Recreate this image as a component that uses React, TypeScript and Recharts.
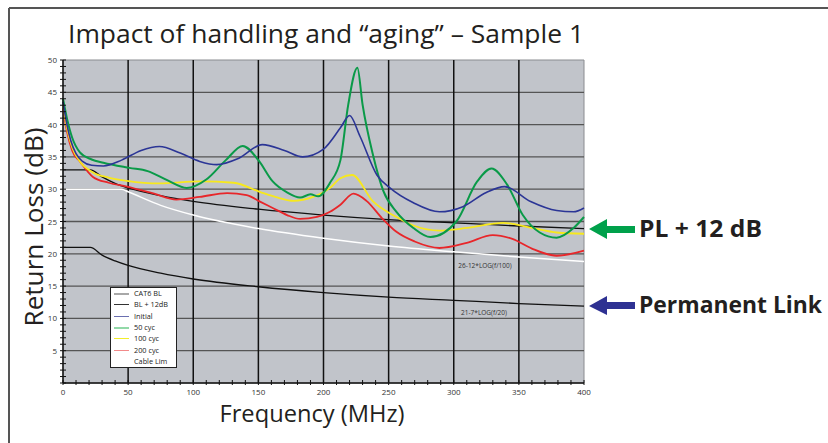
import {
  Line,
  LineChart,
  ReferenceArea,
  ReferenceLine,
  XAxis,
  YAxis,
} from "recharts";

type Pair = [number, number];

// [frequency MHz, return loss dB]
const BL_PLUS_12: Pair[] = [
  [0, 33], [21, 33], [30, 31.9], [40, 30.9], [50, 30.2], [75, 29.0], [100, 28.1],
  [150, 26.9], [200, 26.0], [250, 25.3], [300, 24.8], [350, 24.3], [400, 23.9],
];
const CAT6_BL: Pair[] = [
  [0, 21], [21, 21], [30, 19.8], [40, 18.9], [50, 18.2], [75, 17.0], [100, 16.1],
  [150, 14.9], [200, 14.0], [250, 13.3], [300, 12.8], [350, 12.3], [400, 11.9],
];
const CABLE_LIM: Pair[] = [
  [0, 30], [45, 30], [50, 29.6], [75, 27.5], [100, 26.0], [150, 23.9], [200, 22.4],
  [250, 21.2], [300, 20.3], [350, 19.5], [400, 18.8],
];
const INITIAL: Pair[] = [
  [0, 43.5], [3, 40], [6, 37.5], [10, 35.5], [15, 34.3], [22, 33.7], [31, 33.6],
  [45, 34.5], [60, 36.0], [74, 36.6], [90, 35.6], [105, 34.3], [118, 33.8],
  [135, 34.8], [153, 36.9], [170, 36.0], [184, 35.0], [200, 36.2], [213, 39.5],
  [220, 41.4], [228, 38.2], [241, 32.2], [251, 30.2], [269, 27.9], [289, 26.5],
  [307, 27.3], [325, 29.5], [339, 30.4], [359, 28.1], [379, 26.7], [392, 26.5],
  [400, 27.1],
];
const CYC_50: Pair[] = [
  [0, 44], [3, 41], [7, 38], [13, 35.7], [22, 34.6], [31, 34.1], [51, 33.3],
  [65, 32.8], [80, 31.4], [95, 30.2], [110, 31.5], [125, 34.5], [138, 36.7],
  [150, 34.5], [161, 31.2], [172, 29.5], [182, 28.7], [190, 29.2], [196, 28.9],
  [205, 31.0], [213, 34.5], [219, 43.1], [226, 48.8], [230, 43.1], [238, 35.3],
  [246, 29.7], [256, 26.5], [269, 24.0], [282, 22.6], [302, 25.0], [318, 31.2],
  [329, 33.2], [341, 30.7], [353, 26.0], [366, 23.3], [379, 22.5], [392, 24.0],
  [400, 25.7],
];
const CYC_100: Pair[] = [
  [0, 43], [3, 39.5], [7, 36.5], [13, 34.3], [23, 32.6], [35, 31.8], [49, 31.3],
  [74, 30.9], [105, 31.2], [131, 31.0], [151, 29.6], [165, 28.7], [177, 28.2],
  [192, 28.8], [205, 30.2], [213, 31.7], [222, 32.2], [238, 28.1], [256, 25.7],
  [270, 24.3], [289, 23.6], [310, 24.0], [338, 24.8], [360, 24.0], [379, 23.3],
  [400, 23.1],
];
const CYC_200: Pair[] = [
  [0, 42.5], [3, 39], [7, 36], [13, 34.3], [23, 31.9], [35, 31.0], [49, 30.4],
  [70, 29.3], [87, 28.4], [105, 28.8], [126, 29.4], [141, 29.1], [152, 28.0],
  [161, 27.1], [172, 26.0], [182, 25.4], [195, 25.7], [205, 26.5], [213, 27.6],
  [223, 29.3], [233, 28.2], [245, 25.5], [256, 23.4], [270, 21.9], [289, 20.9],
  [310, 21.7], [330, 22.9], [345, 22.3], [360, 20.8], [379, 19.7], [400, 20.5],
];

const FREQ_LABELS = [0, 50, 100, 150, 200, 250, 300, 350, 400];
const DB_LABELS = [5, 10, 15, 20, 25, 30, 35, 40, 45, 50];
const FREQ_GRID = [50, 100, 150, 200, 250, 300, 350];
const DB_GRID = [5, 10, 15, 20, 25, 30, 35, 40, 45];

const FREQ_TICKS = Array.from({ length: 41 }, (_, i) => i * 10);
const DB_TICKS = Array.from({ length: 51 }, (_, i) => i);

const LEGEND_ITEMS = [
  { name: "CAT6 BL", color: "#a8a8a8", width: 2 },
  { name: "BL + 12dB", color: "#333333", width: 1 },
  { name: "Initial", color: "#6a6fb0", width: 1 },
  { name: "50 cyc", color: "#92d9a8", width: 2 },
  { name: "100 cyc", color: "#f2ee2a", width: 1 },
  { name: "200 cyc", color: "#f28a8a", width: 1 },
  { name: "Cable Lim", color: "#ffffff", width: 1 },
];

const FONT = "'Open Sans', 'Noto Sans', sans-serif";

const toPoints = (pairs: Pair[]) => pairs.map(([f, db]) => ({ f, db }));

function FreqTick({ x, y, payload }: any) {
  const v = payload.value as number;
  return (
    <g>
      <line x1={x} x2={x} y1={y - 3} y2={y + 2} stroke="#111" strokeWidth={1} />
      {FREQ_LABELS.includes(v) ? (
        <text x={x} y={y + 12} textAnchor="middle" fontSize={8} fill="#333" fontFamily={FONT}>
          {v}
        </text>
      ) : null}
    </g>
  );
}

function DbTick({ x, y, payload }: any) {
  const v = payload.value as number;
  return (
    <g>
      <line x1={x - 3} x2={x + 3} y1={y} y2={y} stroke="#111" strokeWidth={1} />
      {DB_LABELS.includes(v) ? (
        <text x={x - 6} y={y + 3} textAnchor="end" fontSize={8} fill="#333" fontFamily={FONT}>
          {v}
        </text>
      ) : null}
    </g>
  );
}

function LegendBox() {
  return (
    <div
      style={{
        position: "absolute",
        left: 110,
        top: 287,
        width: 67,
        height: 81,
        background: "#fff",
        border: "1px solid #222",
        boxSizing: "border-box",
        fontFamily: FONT,
        fontSize: 7.3,
        color: "#222",
      }}
    >
      {LEGEND_ITEMS.map((item) => (
        <div key={item.name} style={{ display: "flex", alignItems: "center", height: 11.3 }}>
          <span
            style={{
              display: "inline-block",
              marginLeft: 3,
              width: 15,
              height: item.width,
              background: item.color,
            }}
          />
          <span style={{ marginLeft: 5, lineHeight: "9px" }}>{item.name}</span>
        </div>
      ))}
    </div>
  );
}

function Overlay() {
  return (
    <svg
      width={828}
      height={443}
      style={{ position: "absolute", left: 0, top: 0, pointerEvents: "none" }}
    >
      {/* page frame */}
      <line x1={9} x2={828} y1={8} y2={8} stroke="#555" strokeWidth={2} />
      <line x1={9} x2={9} y1={8} y2={443} stroke="#555" strokeWidth={2} />

      <text x={68} y={43} fontSize={25} fill="#231f20" fontFamily={FONT} textLength={516} lengthAdjust="spacingAndGlyphs">
        Impact of handling and “aging” – Sample 1
      </text>
      <text
        x={43}
        y={227}
        transform="rotate(-90 43 227)"
        textAnchor="middle"
        fontSize={25}
        fill="#231f20"
        fontFamily={FONT}
        textLength={199}
        lengthAdjust="spacingAndGlyphs"
      >
        Return Loss (dB)
      </text>
      <text x={312} y={422} textAnchor="middle" fontSize={24} fill="#231f20" fontFamily={FONT} textLength={185} lengthAdjust="spacingAndGlyphs">
        Frequency (MHz)
      </text>

      <text x={485} y={268} textAnchor="middle" fontSize={6.5} fill="#333" fontFamily={FONT}>
        26-12*LOG(f/100)
      </text>
      <text x={484} y={315} textAnchor="middle" fontSize={6.5} fill="#333" fontFamily={FONT}>
        21-7*LOG(f/20)
      </text>

      <polygon points="589,229 607,219 607,226 635,226 635,233 607,233 607,239" fill="#00a14b" />
      <text x={639} y={237} fontSize={24} fontWeight={700} fill="#231f20" fontFamily={FONT} textLength={123} lengthAdjust="spacingAndGlyphs">
        PL + 12 dB
      </text>
      <polygon points="589,306 607,296 607,302 635,302 635,309 607,309 607,315" fill="#2e3192" />
      <text x={639} y={313} fontSize={23} fontWeight={700} fill="#231f20" fontFamily={FONT} textLength={183} lengthAdjust="spacingAndGlyphs">
        Permanent Link
      </text>
    </svg>
  );
}

export default function App() {
  return (
    <div style={{ position: "absolute", left: 0, top: 0, width: 828, height: 443, background: "#fff" }}>
      <LineChart width={828} height={443} margin={{ top: 60, right: 244, bottom: 30, left: 33 }}>
        <XAxis
          dataKey="f"
          type="number"
          domain={[0, 400]}
          ticks={FREQ_TICKS}
          interval={0}
          height={30}
          tickSize={0}
          tickMargin={0}
          tick={<FreqTick />}
          axisLine={{ stroke: "#111", strokeWidth: 1.5 }}
          tickLine={false}
        />
        <YAxis
          type="number"
          domain={[0, 50]}
          ticks={DB_TICKS}
          interval={0}
          width={30}
          tickSize={0}
          tickMargin={0}
          tick={<DbTick />}
          axisLine={{ stroke: "#111", strokeWidth: 1.5 }}
          tickLine={false}
        />
        <ReferenceArea x1={0} x2={400} y1={0} y2={50} fill="#c1c4ca" fillOpacity={1} stroke="#8a8c90" strokeWidth={1} />
        {DB_GRID.map((v) => (
          <ReferenceLine key={`h${v}`} y={v} stroke="#555" strokeWidth={1.3} />
        ))}
        {FREQ_GRID.map((v) => (
          <ReferenceLine key={`v${v}`} x={v} stroke="#111" strokeWidth={1.5} />
        ))}
        <Line data={toPoints(CABLE_LIM)} dataKey="db" type="monotone" stroke="#ffffff" strokeWidth={1.5} dot={false} isAnimationActive={false} />
        <Line data={toPoints(CAT6_BL)} dataKey="db" type="monotone" stroke="#111" strokeWidth={1.3} dot={false} isAnimationActive={false} />
        <Line data={toPoints(BL_PLUS_12)} dataKey="db" type="monotone" stroke="#111" strokeWidth={1.3} dot={false} isAnimationActive={false} />
        <Line data={toPoints(CYC_200)} dataKey="db" type="monotone" stroke="#e8262a" strokeWidth={1.8} dot={false} isAnimationActive={false} />
        <Line data={toPoints(CYC_100)} dataKey="db" type="monotone" stroke="#f7e81c" strokeWidth={1.8} dot={false} isAnimationActive={false} />
        <Line data={toPoints(CYC_50)} dataKey="db" type="monotone" stroke="#0a9a48" strokeWidth={2} dot={false} isAnimationActive={false} />
        <Line data={toPoints(INITIAL)} dataKey="db" type="monotone" stroke="#2b3596" strokeWidth={1.6} dot={false} isAnimationActive={false} />
      </LineChart>
      <LegendBox />
      <Overlay />
    </div>
  );
}
